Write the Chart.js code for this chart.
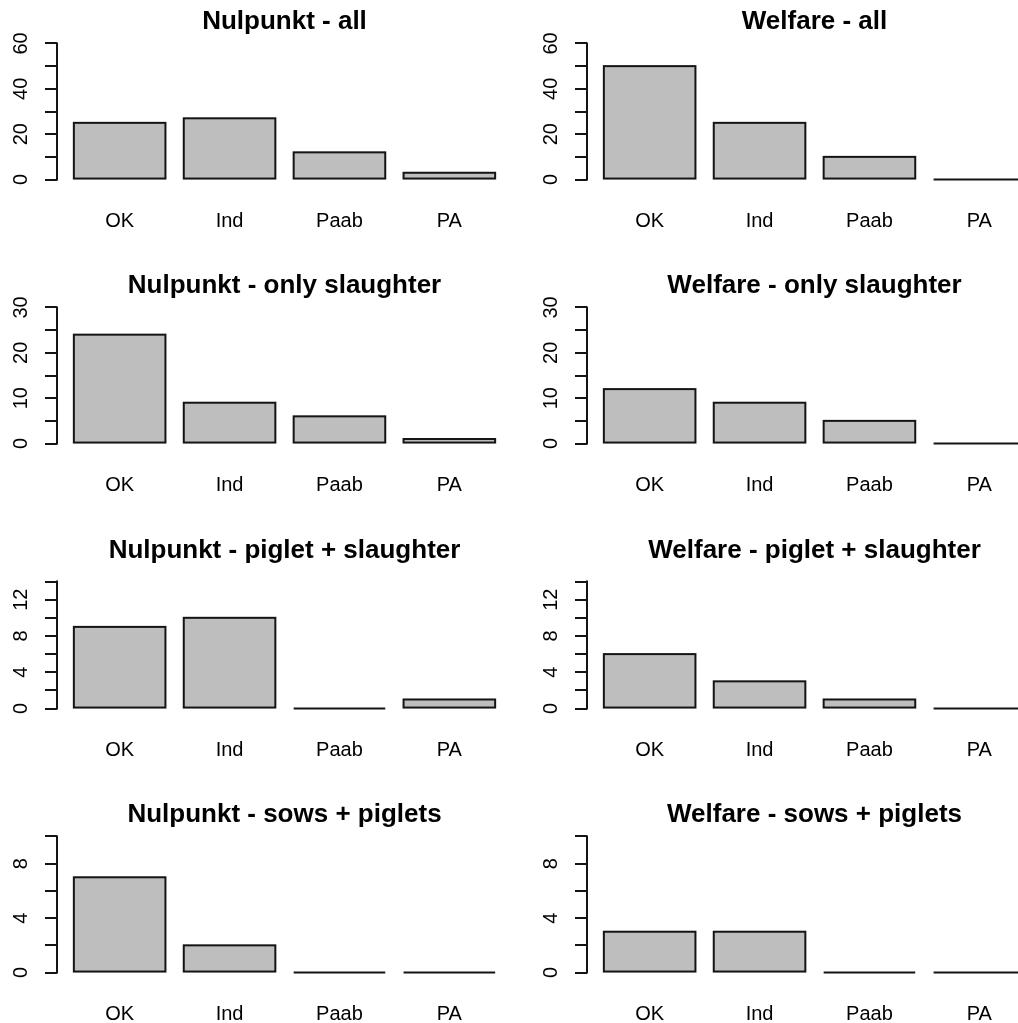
<!DOCTYPE html>
<html>
<head>
<meta charset="utf-8">
<script src="https://cdn.jsdelivr.net/npm/chart.js@4.4.1/dist/chart.umd.min.js"></script>
<style>
  html, body { margin: 0; padding: 0; background: #fff; overflow: hidden; }
  #wrap { position: relative; width: 1018px; height: 1023px; overflow: hidden; background: #fff; }
  #wrap canvas { position: absolute; }
</style>
</head>
<body>
<div id="wrap"></div>
<script>
// ---------------- data ----------------
const categories = ['OK', 'Ind', 'Paab', 'PA'];

const panelTitles = [
  'Nulpunkt - all', 'Welfare - all',
  'Nulpunkt - only slaughter', 'Welfare - only slaughter',
  'Nulpunkt - piglet + slaughter', 'Welfare - piglet + slaughter',
  'Nulpunkt - sows + piglets', 'Welfare - sows + piglets'
];

const nulpunktAll = [25, 27, 12, 3];
const welfareAll = [50, 25, 10, 0];
const nulpunktOnlySlaughter = [24, 9, 6, 1];
const welfareOnlySlaughter = [12, 9, 5, 0];
const nulpunktPigletSlaughter = [9, 10, 0, 1];
const welfarePigletSlaughter = [6, 3, 1, 0];
const nulpunktSowsPiglets = [7, 2, 0, 0];
const welfareSowsPiglets = [3, 3, 0, 0];

const panelValues = [
  nulpunktAll, welfareAll,
  nulpunktOnlySlaughter, welfareOnlySlaughter,
  nulpunktPigletSlaughter, welfarePigletSlaughter,
  nulpunktSowsPiglets, welfareSowsPiglets
];

// y-axis limits, tick positions and labelled ticks per row
const yLimits = [60, 30, 15, 10];
const ticksAll = [0, 10, 20, 30, 40, 50, 60];
const ticksOnlySlaughter = [0, 5, 10, 15, 20, 25, 30];
const ticksPigletSlaughter = [0, 2, 4, 6, 8, 10, 12, 14];
const ticksSowsPiglets = [0, 2, 4, 6, 8, 10];
const labelsAll = [0, 20, 40, 60];
const labelsOnlySlaughter = [0, 10, 20, 30];
const labelsPigletSlaughter = [0, 4, 8, 12];
const labelsSowsPiglets = [0, 4, 8];
const rowTicks = [ticksAll, ticksOnlySlaughter, ticksPigletSlaughter, ticksSowsPiglets];
const rowLabels = [labelsAll, labelsOnlySlaughter, labelsPigletSlaughter, labelsSowsPiglets];

// ---------------- layout / style ----------------
const FONT = "'Liberation Sans', Arial, Helvetica, sans-serif";
const PANEL_W = 530, PANEL_H = 264;
const ROW_TOPS = [0, 264, 529, 793];
const AXIS_W = 57, PAD_RIGHT = 18, X_AXIS_H = 79;
const TICK_LEN = 12, LABEL_CENTER_X = 21;
const AXIS_FONT = 20, TITLE_FONT = 26;
const BAR_FILL = '#BEBEBE', INK = '#141414';
const BAR_WIDTH = 1, BAR_SPACE = 0.2;   // R barplot defaults
const EXT = 0.04;                      // R axis extension

Chart.defaults.font.family = FONT;
Chart.defaults.color = '#000';

const measurer = document.createElement('canvas').getContext('2d');
measurer.font = AXIS_FONT + 'px ' + FONT;

// outline bars (R style, stroke centred on edges) and draw the y axis line tick-to-tick
const rStyle = {
  id: 'rStyle',
  afterDatasetsDraw(chart) {
    const ctx = chart.ctx;
    ctx.save();
    ctx.lineWidth = 2;
    ctx.strokeStyle = INK;
    ctx.lineJoin = 'miter';
    chart.getDatasetMeta(0).data.forEach(el => {
      const p = el.getProps(['x', 'y', 'base', 'width'], true);
      const top = Math.min(p.y, p.base), h = Math.abs(p.base - p.y);
      ctx.strokeRect(p.x - p.width / 2, top, p.width, h);
    });
    const ys = chart.scales.y;
    const t = ys.ticks;
    const x = Math.round(ys.right);
    ctx.lineCap = 'square';
    ctx.beginPath();
    ctx.moveTo(x, ys.getPixelForValue(t[0].value));
    ctx.lineTo(x, ys.getPixelForValue(t[t.length - 1].value));
    ctx.stroke();
    ctx.restore();
  }
};

const wrap = document.getElementById('wrap');
const n = categories.length;
const xLo = BAR_SPACE, xHi = n * (BAR_WIDTH + BAR_SPACE);
const xExt = EXT * (xHi - xLo);
const barCenters = categories.map((c, i) => BAR_SPACE + i * (BAR_WIDTH + BAR_SPACE) + BAR_WIDTH / 2);

panelValues.forEach((vals, i) => {
  const row = Math.floor(i / 2), col = i % 2;
  const cv = document.createElement('canvas');
  cv.width = PANEL_W; cv.height = PANEL_H;
  cv.style.left = (col * PANEL_W) + 'px';
  cv.style.top = ROW_TOPS[row] + 'px';
  cv.style.width = PANEL_W + 'px'; cv.style.height = PANEL_H + 'px';
  wrap.appendChild(cv);

  const lim = yLimits[row];
  const ticks = rowTicks[row];
  const labelled = rowLabels[row];
  const widest = Math.max(...labelled.map(v => measurer.measureText(String(v)).width));
  const yPad = AXIS_W - TICK_LEN - widest / 2 - LABEL_CENTER_X;

  new Chart(cv, {
    type: 'bar',
    data: {
      datasets: [{
        data: vals.map((v, k) => ({ x: barCenters[k], y: v })),
        backgroundColor: BAR_FILL,
        borderWidth: 0,
        barPercentage: BAR_WIDTH / (BAR_WIDTH + BAR_SPACE),
        categoryPercentage: 1
      }]
    },
    options: {
      responsive: false,
      animation: false,
      devicePixelRatio: 1,
      layout: { padding: { left: 0, right: PAD_RIGHT, top: 0, bottom: 0 } },
      plugins: {
        legend: { display: false },
        tooltip: { enabled: false },
        title: {
          display: true,
          text: panelTitles[i],
          fullSize: false,
          color: '#000',
          font: { family: FONT, size: TITLE_FONT, weight: 'bold' },
          padding: { top: 6.4, bottom: 0.4 }
        }
      },
      scales: {
        x: {
          type: 'linear',
          bounds: 'data',
          offset: false,
          min: xLo - xExt,
          max: xHi + xExt,
          afterBuildTicks(s) { s.ticks = barCenters.map(v => ({ value: v })); },
          afterFit(s) { s.height = X_AXIS_H; },
          grid: { display: false, drawTicks: false, offset: false },
          border: { display: false },
          ticks: {
            autoSkip: false, maxRotation: 0, minRotation: 0,
            padding: 24.8,
            color: '#000',
            font: { family: FONT, size: AXIS_FONT },
            callback: (v, k) => categories[k]
          }
        },
        y: {
          type: 'linear',
          min: -EXT * lim,
          max: (1 + EXT) * lim,
          afterBuildTicks(s) { s.ticks = ticks.map(v => ({ value: v })); },
          afterFit(s) { s.width = AXIS_W; },
          grid: {
            display: true, drawOnChartArea: false, drawTicks: true,
            tickLength: TICK_LEN, tickWidth: 2, tickColor: INK, color: INK, lineWidth: 2
          },
          border: { display: false },
          ticks: {
            autoSkip: false,
            minRotation: 90, maxRotation: 90,
            crossAlign: 'center',
            padding: yPad,
            color: '#000',
            font: { family: FONT, size: AXIS_FONT },
            callback: v => (labelled.includes(v) ? String(v) : '')
          }
        }
      }
    },
    plugins: [rStyle]
  });
});
</script>
</body>
</html>
